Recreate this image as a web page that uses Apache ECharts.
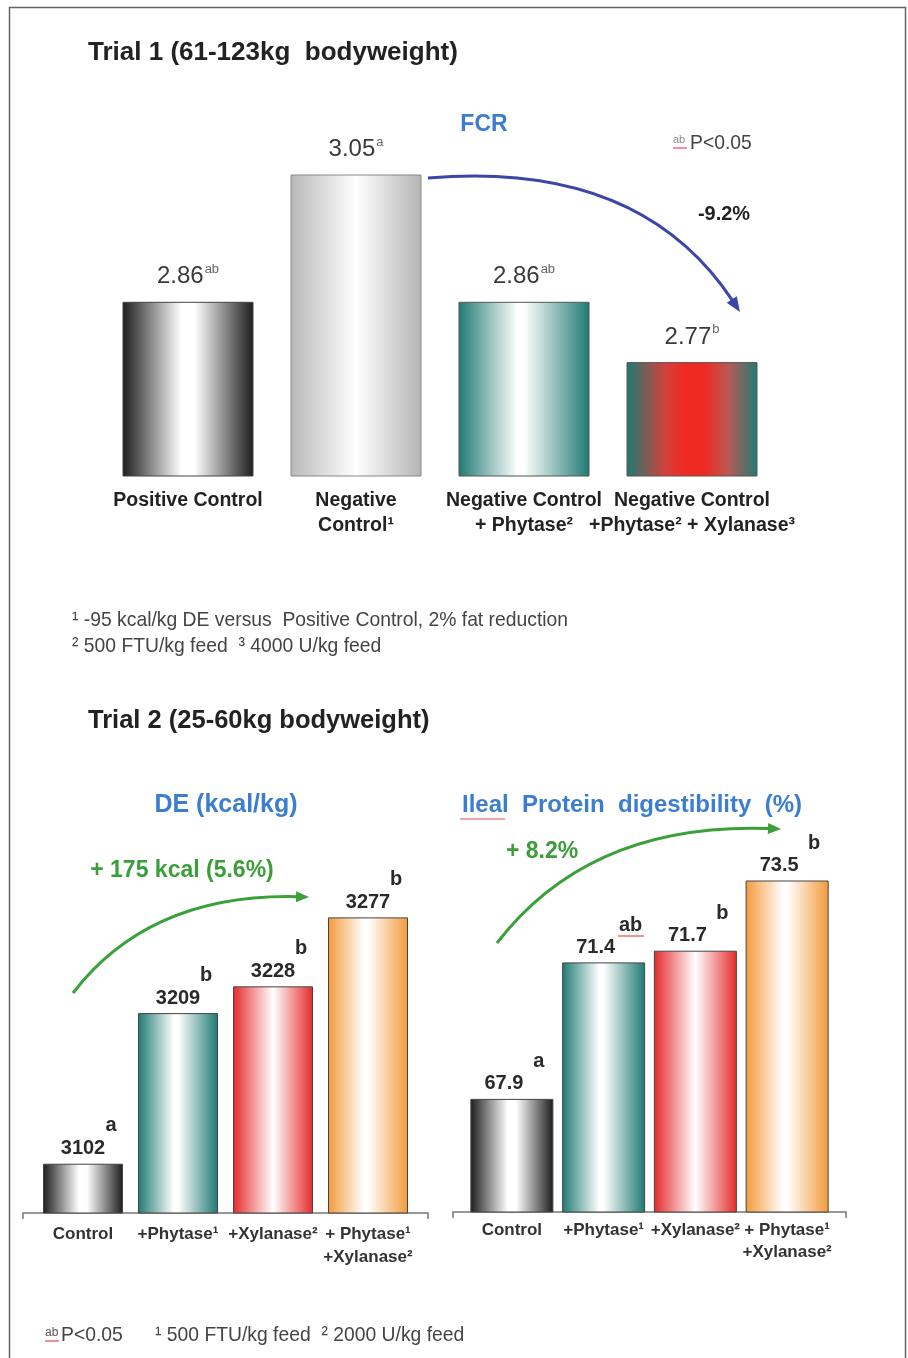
<!DOCTYPE html>
<html>
<head>
<meta charset="utf-8">
<script src="https://cdn.jsdelivr.net/npm/echarts@6/dist/echarts.min.js"></script>
<style>
  html, body { margin: 0; padding: 0; background: #fff; }
  #chart { width: 908px; height: 1358px; }
</style>
</head>
<body>
<div id="chart"></div>
<script>
// ---------- data ----------
const trial1Categories = ['Positive Control', 'Negative\nControl¹', 'Negative Control\n+ Phytase²', 'Negative Control\n+Phytase² + Xylanase³'];
const trial1FCR = [2.86, 3.05, 2.86, 2.77];
const trial1Sig = ['ab', 'a', 'ab', 'b'];

const trial2Categories = ['Control', '+Phytase¹', '+Xylanase²', '+ Phytase¹\n+Xylanase²'];
const trial2DE = [3102, 3209, 3228, 3277];
const trial2DESig = ['a', 'b', 'b', 'b'];
const trial2Ileal = [67.9, 71.4, 71.7, 73.5];
const trial2IlealSig = ['a', 'ab', 'b', 'b'];

const fcrRange = [2.6, 3.1];
const deRange = [3067, 3300];
const ilealRange = [65, 74];

// ---------- styles ----------
const FONT = '"Liberation Sans", Arial, sans-serif';

function grad(stops) {
  return { type: 'linear', x: 0, y: 0, x2: 1, y2: 0,
    colorStops: stops.map(s => ({ offset: s[0], color: s[1] })) };
}
const G_BLACK = grad([[0, '#1c1c1c'], [0.45, '#ffffff'], [0.55, '#ffffff'], [1, '#1c1c1c']]);
const G_GRAY = grad([[0, '#b8b8b8'], [0.5, '#ffffff'], [1, '#b4b4b4']]);
const G_TEAL = grad([[0, '#1f7a73'], [0.45, '#ffffff'], [0.5, '#ffffff'], [1, '#1f7a73']]);
const G_TEALRED = grad([[0, '#1f7a73'], [0.3, '#d4403a'], [0.45, '#ee2a22'], [0.6, '#ee2a22'], [0.78, '#b85a55'], [1, '#1f7a73']]);
const G_RED = grad([[0, '#e52a2a'], [0.5, '#ffffff'], [1, '#e52a2a']]);
const G_ORANGE = grad([[0, '#f39a3a'], [0.45, '#ffffff'], [0.5, '#ffffff'], [1, '#f39a3a']]);

const trial1Fills = [G_BLACK, G_GRAY, G_TEAL, G_TEALRED];
const trial1Borders = ['#444', '#888', '#555', '#555'];
const trial2Fills = [G_BLACK, G_TEAL, G_RED, G_ORANGE];

function styled(values, fills, borders) {
  return values.map((v, i) => ({ value: v,
    itemStyle: { color: fills[i], borderColor: Array.isArray(borders) ? borders[i] : borders, borderWidth: 1 } }));
}

function arrow(p0, c, tip, color, lw, headLen, headW) {
  const dx = tip[0] - c[0], dy = tip[1] - c[1];
  const L = Math.hypot(dx, dy), ux = dx / L, uy = dy / L;
  const bx = tip[0] - ux * headLen, by = tip[1] - uy * headLen;
  const nx = -uy, ny = ux;
  return [
    { type: 'bezierCurve', silent: true,
      shape: { x1: p0[0], y1: p0[1], cpx1: c[0], cpy1: c[1], x2: bx + ux * 2, y2: by + uy * 2 },
      style: { stroke: color, lineWidth: lw, fill: null } },
    { type: 'polygon', silent: true,
      shape: { points: [tip, [bx + nx * headW / 2, by + ny * headW / 2], [bx - nx * headW / 2, by - ny * headW / 2]] },
      style: { fill: color } }
  ];
}

function txt(x, y, text, font, fill, align, extra) {
  return Object.assign({ type: 'text', x: x, y: y, silent: true,
    style: { text: text, font: font, fill: fill, align: align || 'left', verticalAlign: 'middle' } }, extra || {});
}
function redLine(x1, x2, y) {
  return { type: 'line', silent: true, shape: { x1: x1, y1: y, x2: x2, y2: y },
    style: { stroke: '#e8484f', lineWidth: 1.2 } };
}

const numLabel = { fontFamily: FONT, fontSize: 20, fontWeight: 'bold', color: '#2a2a2a', lineHeight: 20 };

const chart = echarts.init(document.getElementById('chart'), null, { renderer: 'canvas' });

const option = {
  backgroundColor: '#ffffff',
  animation: false,
  grid: [
    { left: 104, width: 672, top: 141, height: 335 },
    { left: 35.5, width: 380, top: 885, height: 328 },
    { left: 466, width: 367, top: 861, height: 351 }
  ],
  xAxis: [
    { gridIndex: 0, type: 'category', data: trial1Categories,
      axisLine: { show: false }, axisTick: { show: false },
      axisLabel: { interval: 0, margin: 12, fontFamily: FONT, fontSize: 19.5, fontWeight: 'bold',
        color: '#222', lineHeight: 25 } },
    { gridIndex: 1, type: 'category', data: trial2Categories,
      axisLine: { show: false }, axisTick: { show: false },
      axisLabel: { interval: 0, margin: 10, fontFamily: FONT, fontSize: 17, fontWeight: 'bold',
        color: '#333', lineHeight: 23 } },
    { gridIndex: 2, type: 'category', data: trial2Categories,
      axisLine: { show: false }, axisTick: { show: false },
      axisLabel: { interval: 0, margin: 7, fontFamily: FONT, fontSize: 17, fontWeight: 'bold',
        color: '#333', lineHeight: 22 } }
  ],
  yAxis: [
    { gridIndex: 0, type: 'value', min: fcrRange[0], max: fcrRange[1], show: false },
    { gridIndex: 1, type: 'value', min: deRange[0], max: deRange[1], show: false },
    { gridIndex: 2, type: 'value', min: ilealRange[0], max: ilealRange[1], show: false }
  ],
  series: [
    { type: 'bar', xAxisIndex: 0, yAxisIndex: 0, barWidth: 131,
      data: styled(trial1FCR, trial1Fills, trial1Borders),
      label: { show: true, position: 'top', distance: 13,
        formatter: p => '{v|' + p.value.toFixed(2) + '}{s|' + trial1Sig[p.dataIndex] + '}',
        rich: {
          v: { fontFamily: FONT, fontSize: 24, color: '#3a3a3a', lineHeight: 26, verticalAlign: 'bottom' },
          s: { fontFamily: FONT, fontSize: 13, color: '#666', lineHeight: 15, verticalAlign: 'top', padding: [0, 0, 0, 1] }
        } } },
    // DE: values
    { type: 'bar', xAxisIndex: 1, yAxisIndex: 1, barWidth: 80, barGap: '-100%',
      data: styled(trial2DE, trial2Fills, '#444'),
      label: Object.assign({ show: true, position: 'top', distance: 5,
        formatter: p => String(p.value) }, numLabel) },
    // DE: significance letters
    { type: 'bar', xAxisIndex: 1, yAxisIndex: 1, barWidth: 80, barGap: '-100%', silent: true,
      data: trial2DE, itemStyle: { color: 'rgba(0,0,0,0)' },
      label: Object.assign({ show: true, position: 'top', distance: 28, offset: [28, 0],
        formatter: p => trial2DESig[p.dataIndex] }, numLabel) },
    // Ileal: values
    { type: 'bar', xAxisIndex: 2, yAxisIndex: 2, barWidth: 83, barGap: '-100%',
      data: styled(trial2Ileal, trial2Fills, '#444'),
      label: Object.assign({ show: true, position: 'top', distance: 5, offset: [-8, 0],
        formatter: p => p.value.toFixed(1) }, numLabel) },
    // Ileal: significance letters
    { type: 'bar', xAxisIndex: 2, yAxisIndex: 2, barWidth: 83, barGap: '-100%', silent: true,
      data: trial2Ileal, itemStyle: { color: 'rgba(0,0,0,0)' },
      label: Object.assign({ show: true, position: 'top', distance: 27, offset: [27, 0],
        formatter: p => trial2IlealSig[p.dataIndex] }, numLabel) }
  ],
  graphic: [].concat(
    [{ type: 'rect', silent: true, z: -10, shape: { x: 9.5, y: 7.5, width: 896, height: 1400 },
       style: { fill: null, stroke: '#666', lineWidth: 1.5 } }],
    [txt(88, 53, 'Trial 1 (61-123kg  bodyweight)', 'bold 26px ' + FONT, '#222'),
     txt(88, 721, 'Trial 2 (25-60kg bodyweight)', 'bold 25.5px ' + FONT, '#222'),
     txt(484, 125, 'FCR', 'bold 23px ' + FONT, '#3b7dd0', 'center'),
     txt(226, 805, 'DE (kcal/kg)', 'bold 25px ' + FONT, '#3b7dd0', 'center'),
     txt(632, 805, 'Ileal  Protein  digestibility  (%)', 'bold 24px ' + FONT, '#3b7dd0', 'center'),
     redLine(460, 505, 819),
     txt(724, 214, '-9.2%', 'bold 20px ' + FONT, '#222', 'center'),
     txt(673, 140, 'ab', '11px ' + FONT, '#888'),
     redLine(673, 687, 148),
     txt(690, 143, 'P<0.05', '21px ' + FONT, '#444', 'left', { scaleX: 0.92 }),
     txt(182, 871, '+ 175 kcal (5.6%)', 'bold 23px ' + FONT, '#3a9e3a', 'center'),
     txt(542, 852, '+ 8.2%', 'bold 23px ' + FONT, '#3a9e3a', 'center'),
     redLine(618, 644, 936),
     txt(72, 620, '¹ -95 kcal/kg DE versus  Positive Control, 2% fat reduction', '21px ' + FONT, '#444', 'left', { scaleX: 0.92 }),
     txt(72, 646, '² 500 FTU/kg feed  ³ 4000 U/kg feed', '21px ' + FONT, '#444', 'left', { scaleX: 0.92 }),
     txt(45, 1333, 'ab', '12px ' + FONT, '#555'),
     redLine(45, 59, 1341),
     txt(61, 1335, 'P<0.05', '21px ' + FONT, '#444', 'left', { scaleX: 0.92 }),
     txt(155, 1335, '¹ 500 FTU/kg feed  ² 2000 U/kg feed', '21px ' + FONT, '#444', 'left', { scaleX: 0.92 }),
     { type: 'polyline', silent: true, shape: { points: [[23, 1219], [23, 1213], [428, 1213], [428, 1219]] },
       style: { stroke: '#777', lineWidth: 1.5, fill: null } },
     { type: 'polyline', silent: true, shape: { points: [[453, 1218], [453, 1212], [846, 1212], [846, 1218]] },
       style: { stroke: '#777', lineWidth: 1.5, fill: null } }
    ],
    arrow([428, 178], [640, 160], [740, 312], '#3b46a6', 3, 15, 12),
    arrow([73, 993], [150, 893], [309, 897], '#3aa03a', 3, 13, 11),
    arrow([497, 943], [590, 822], [781, 829], '#3aa03a', 3, 13, 11)
  )
};

chart.setOption(option);
</script>
</body>
</html>
